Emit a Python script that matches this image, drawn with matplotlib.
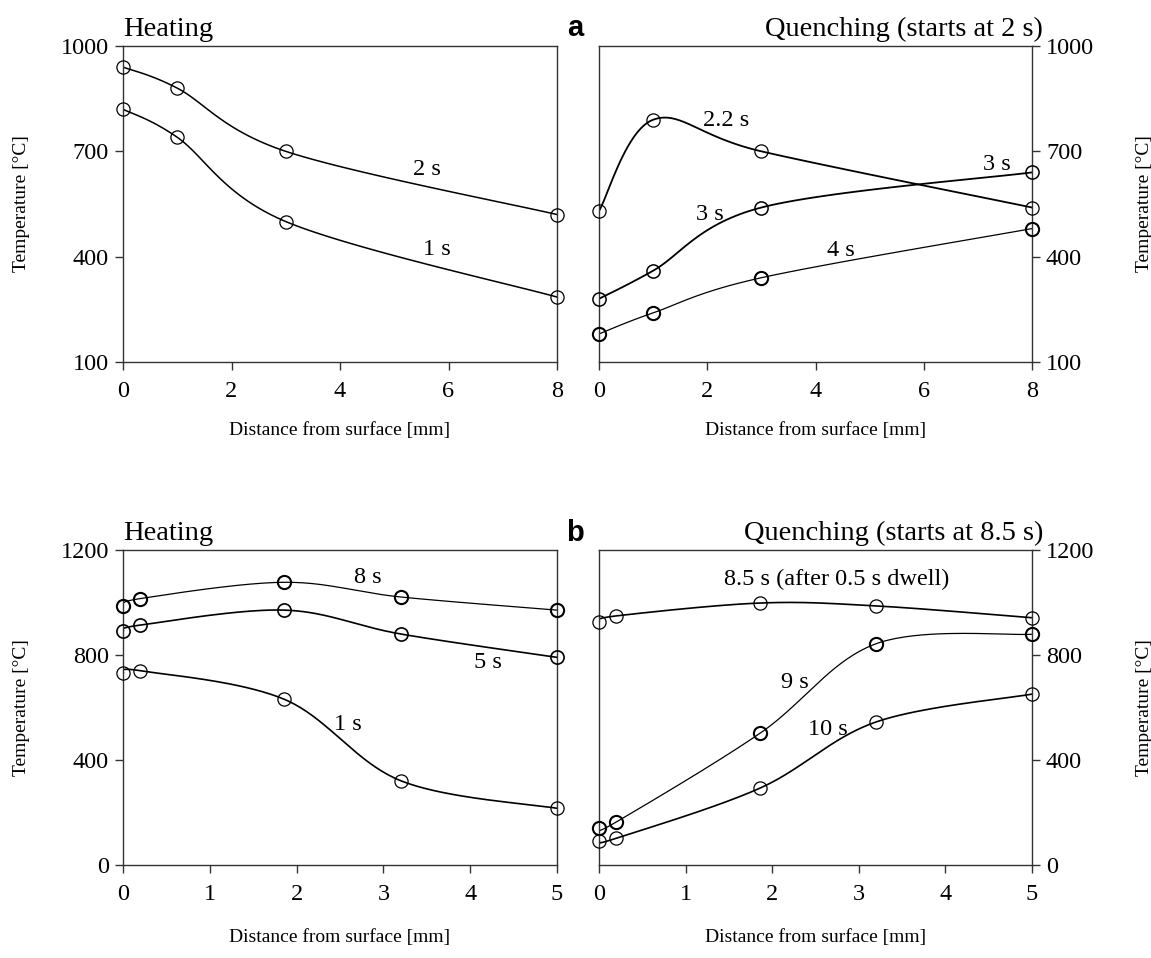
import numpy as np
import matplotlib
matplotlib.use('Agg')
import matplotlib.pyplot as plt

plt.rcParams['font.family'] = ['Liberation Serif', 'DejaVu Serif']

# ---- data ----
# (a) 8 mm grid
dist_a = [0, 1, 3, 8]
heat_a_2s = [940, 880, 700, 520]
heat_a_1s = [820, 740, 500, 285]
quench_a_22s = [530, 790, 700, 540]
quench_a_3s = [280, 360, 540, 640]
quench_a_4s = [180, 240, 340, 480]

# (b) 5 mm grid
dist_b = [0, 0.2, 1.86, 3.2, 5]
heat_b_8s = [985, 1015, 1077, 1021, 971]
heat_b_5s = [891, 914, 971, 880, 791]
heat_b_1s = [730, 740, 631, 321, 216]
quench_b_85s = [927, 949, 998, 987, 942]
quench_b_9s = [142, 164, 502, 843, 879]
quench_b_10s = [91, 102, 293, 545, 651]


def smooth(x, y, xr, yr, n=40):
    """Excel-like smoothed line (Catmull-Rom Bezier) in normalised axes space."""
    px = np.asarray(x, float) / (xr[1] - xr[0])
    py = (np.asarray(y, float) - yr[0]) / (yr[1] - yr[0]) * 0.73
    P = np.column_stack([px, py])
    P = np.vstack([P[0], P, P[-1]])
    out = []
    for i in range(1, len(P) - 2):
        p0, p1, p2, p3 = P[i - 1], P[i], P[i + 1], P[i + 2]
        c1 = p1 + (p2 - p0) / 6.0
        c2 = p2 - (p3 - p1) / 6.0
        t = np.linspace(0, 1, n)[:, None]
        seg = ((1 - t) ** 3) * p1 + 3 * ((1 - t) ** 2) * t * c1 + 3 * (1 - t) * t ** 2 * c2 + t ** 3 * p2
        out.append(seg)
    s = np.vstack(out)
    sx = s[:, 0] * (xr[1] - xr[0])
    sy = s[:, 1] / 0.73 * (yr[1] - yr[0]) + yr[0]
    return sx, sy


def draw(ax, x, y, xr, yr, lw=1.1, mew=0.9):
    sx, sy = smooth(x, y, xr, yr)
    ax.plot(sx, sy, color='black', lw=lw, zorder=2)
    ax.plot(x, y, linestyle='none', marker='o', ms=9.5, mfc='none', mec='black', mew=mew,
            zorder=3, clip_on=False)


def style(ax, xr, yr, xt, yt, right=False, xpad=14):
    ax.set_xlim(*xr)
    ax.set_ylim(*yr)
    ax.set_xticks(xt)
    ax.set_yticks(yt)
    for sp in ax.spines.values():
        sp.set_color('#333333')
        sp.set_linewidth(1.0)
    ax.tick_params(direction='out', length=6, width=1.0, color='#333333',
                   labelsize=17.5)
    ax.tick_params(axis='x', pad=8)
    ax.tick_params(axis='y', pad=4)
    if right:
        ax.yaxis.tick_right()
        ax.yaxis.set_label_position('right')
    ax.set_xlabel('Distance from surface [mm]', fontsize=14, labelpad=xpad)
    ax.set_ylabel('Temperature [°C]', fontsize=14, labelpad=22 if not right else 30)


fig = plt.figure(figsize=(11.51, 9.58), dpi=100)
W, H = 1151, 958
ax1 = fig.add_axes([123 / W, 1 - 362 / H, 434 / W, 316 / H])
ax2 = fig.add_axes([599 / W, 1 - 362 / H, 433 / W, 316 / H])
ax3 = fig.add_axes([123 / W, 1 - 865 / H, 434 / W, 315 / H])
ax4 = fig.add_axes([599 / W, 1 - 865 / H, 433 / W, 315 / H])

xa, ya = (0, 8), (100, 1000)
xb, yb = (0, 5), (0, 1200)
fs = 17.5

# top-left: heating
draw(ax1, dist_a, heat_a_2s, xa, ya)
draw(ax1, dist_a, heat_a_1s, xa, ya)
ax1.text(5.6, 649, '2 s', fontsize=fs, ha='center', va='center')
ax1.text(5.78, 419, '1 s', fontsize=fs, ha='center', va='center')
style(ax1, xa, ya, [0, 2, 4, 6, 8], [100, 400, 700, 1000])

# top-right: quenching
draw(ax2, dist_a, quench_a_22s, xa, ya, lw=1.3)
draw(ax2, dist_a, quench_a_3s, xa, ya, lw=1.3, mew=1.1)
draw(ax2, dist_a, quench_a_4s, xa, ya, lw=0.9, mew=1.5)
ax2.text(2.34, 789, '2.2 s', fontsize=fs, ha='center', va='center')
ax2.text(7.35, 662, '3 s', fontsize=fs, ha='center', va='center')
ax2.text(2.05, 521, '3 s', fontsize=fs, ha='center', va='center')
ax2.text(4.46, 417, '4 s', fontsize=fs, ha='center', va='center')
style(ax2, xa, ya, [0, 2, 4, 6, 8], [100, 400, 700, 1000], right=True)

# bottom-left: heating
draw(ax3, dist_b, heat_b_8s, xb, yb, lw=0.9, mew=1.5)
draw(ax3, dist_b, heat_b_5s, xb, yb, lw=1.2, mew=1.2)
draw(ax3, dist_b, heat_b_1s, xb, yb, lw=1.2)
ax3.text(2.82, 1096, '8 s', fontsize=fs, ha='center', va='center')
ax3.text(4.2, 771, '5 s', fontsize=fs, ha='center', va='center')
ax3.text(2.59, 537, '1 s', fontsize=fs, ha='center', va='center')
style(ax3, xb, yb, [0, 1, 2, 3, 4, 5], [0, 400, 800, 1200], xpad=17)

# bottom-right: quenching
draw(ax4, dist_b, quench_b_85s, xb, yb, lw=1.2)
draw(ax4, dist_b, quench_b_9s, xb, yb, lw=0.9, mew=1.5)
draw(ax4, dist_b, quench_b_10s, xb, yb, lw=1.2)
ax4.text(2.75, 1088, '8.5 s (after 0.5 s dwell)', fontsize=fs, ha='center', va='center')
ax4.text(2.26, 697, '9 s', fontsize=fs, ha='center', va='center')
ax4.text(2.64, 517, '10 s', fontsize=fs, ha='center', va='center')
style(ax4, xb, yb, [0, 1, 2, 3, 4, 5], [0, 400, 800, 1200], right=True, xpad=17)

# panel titles and letters
tfs = 20.5
fig.text(123 / W, 1 - 29 / H, 'Heating', fontsize=tfs, ha='left', va='center')
fig.text(1043 / W, 1 - 29 / H, 'Quenching (starts at 2 s)', fontsize=tfs, ha='right', va='center')
fig.text(123 / W, 1 - 533 / H, 'Heating', fontsize=tfs, ha='left', va='center')
fig.text(1043 / W, 1 - 533 / H, 'Quenching (starts at 8.5 s)', fontsize=tfs, ha='right', va='center')
fig.text(575 / W, 1 - 28 / H, 'a', fontsize=21, fontweight='bold', family='Liberation Sans',
         ha='center', va='center')
fig.text(575 / W, 1 - 533 / H, 'b', fontsize=21, fontweight='bold', family='Liberation Sans',
         ha='center', va='center')

fig.savefig('out.png', dpi=100)
